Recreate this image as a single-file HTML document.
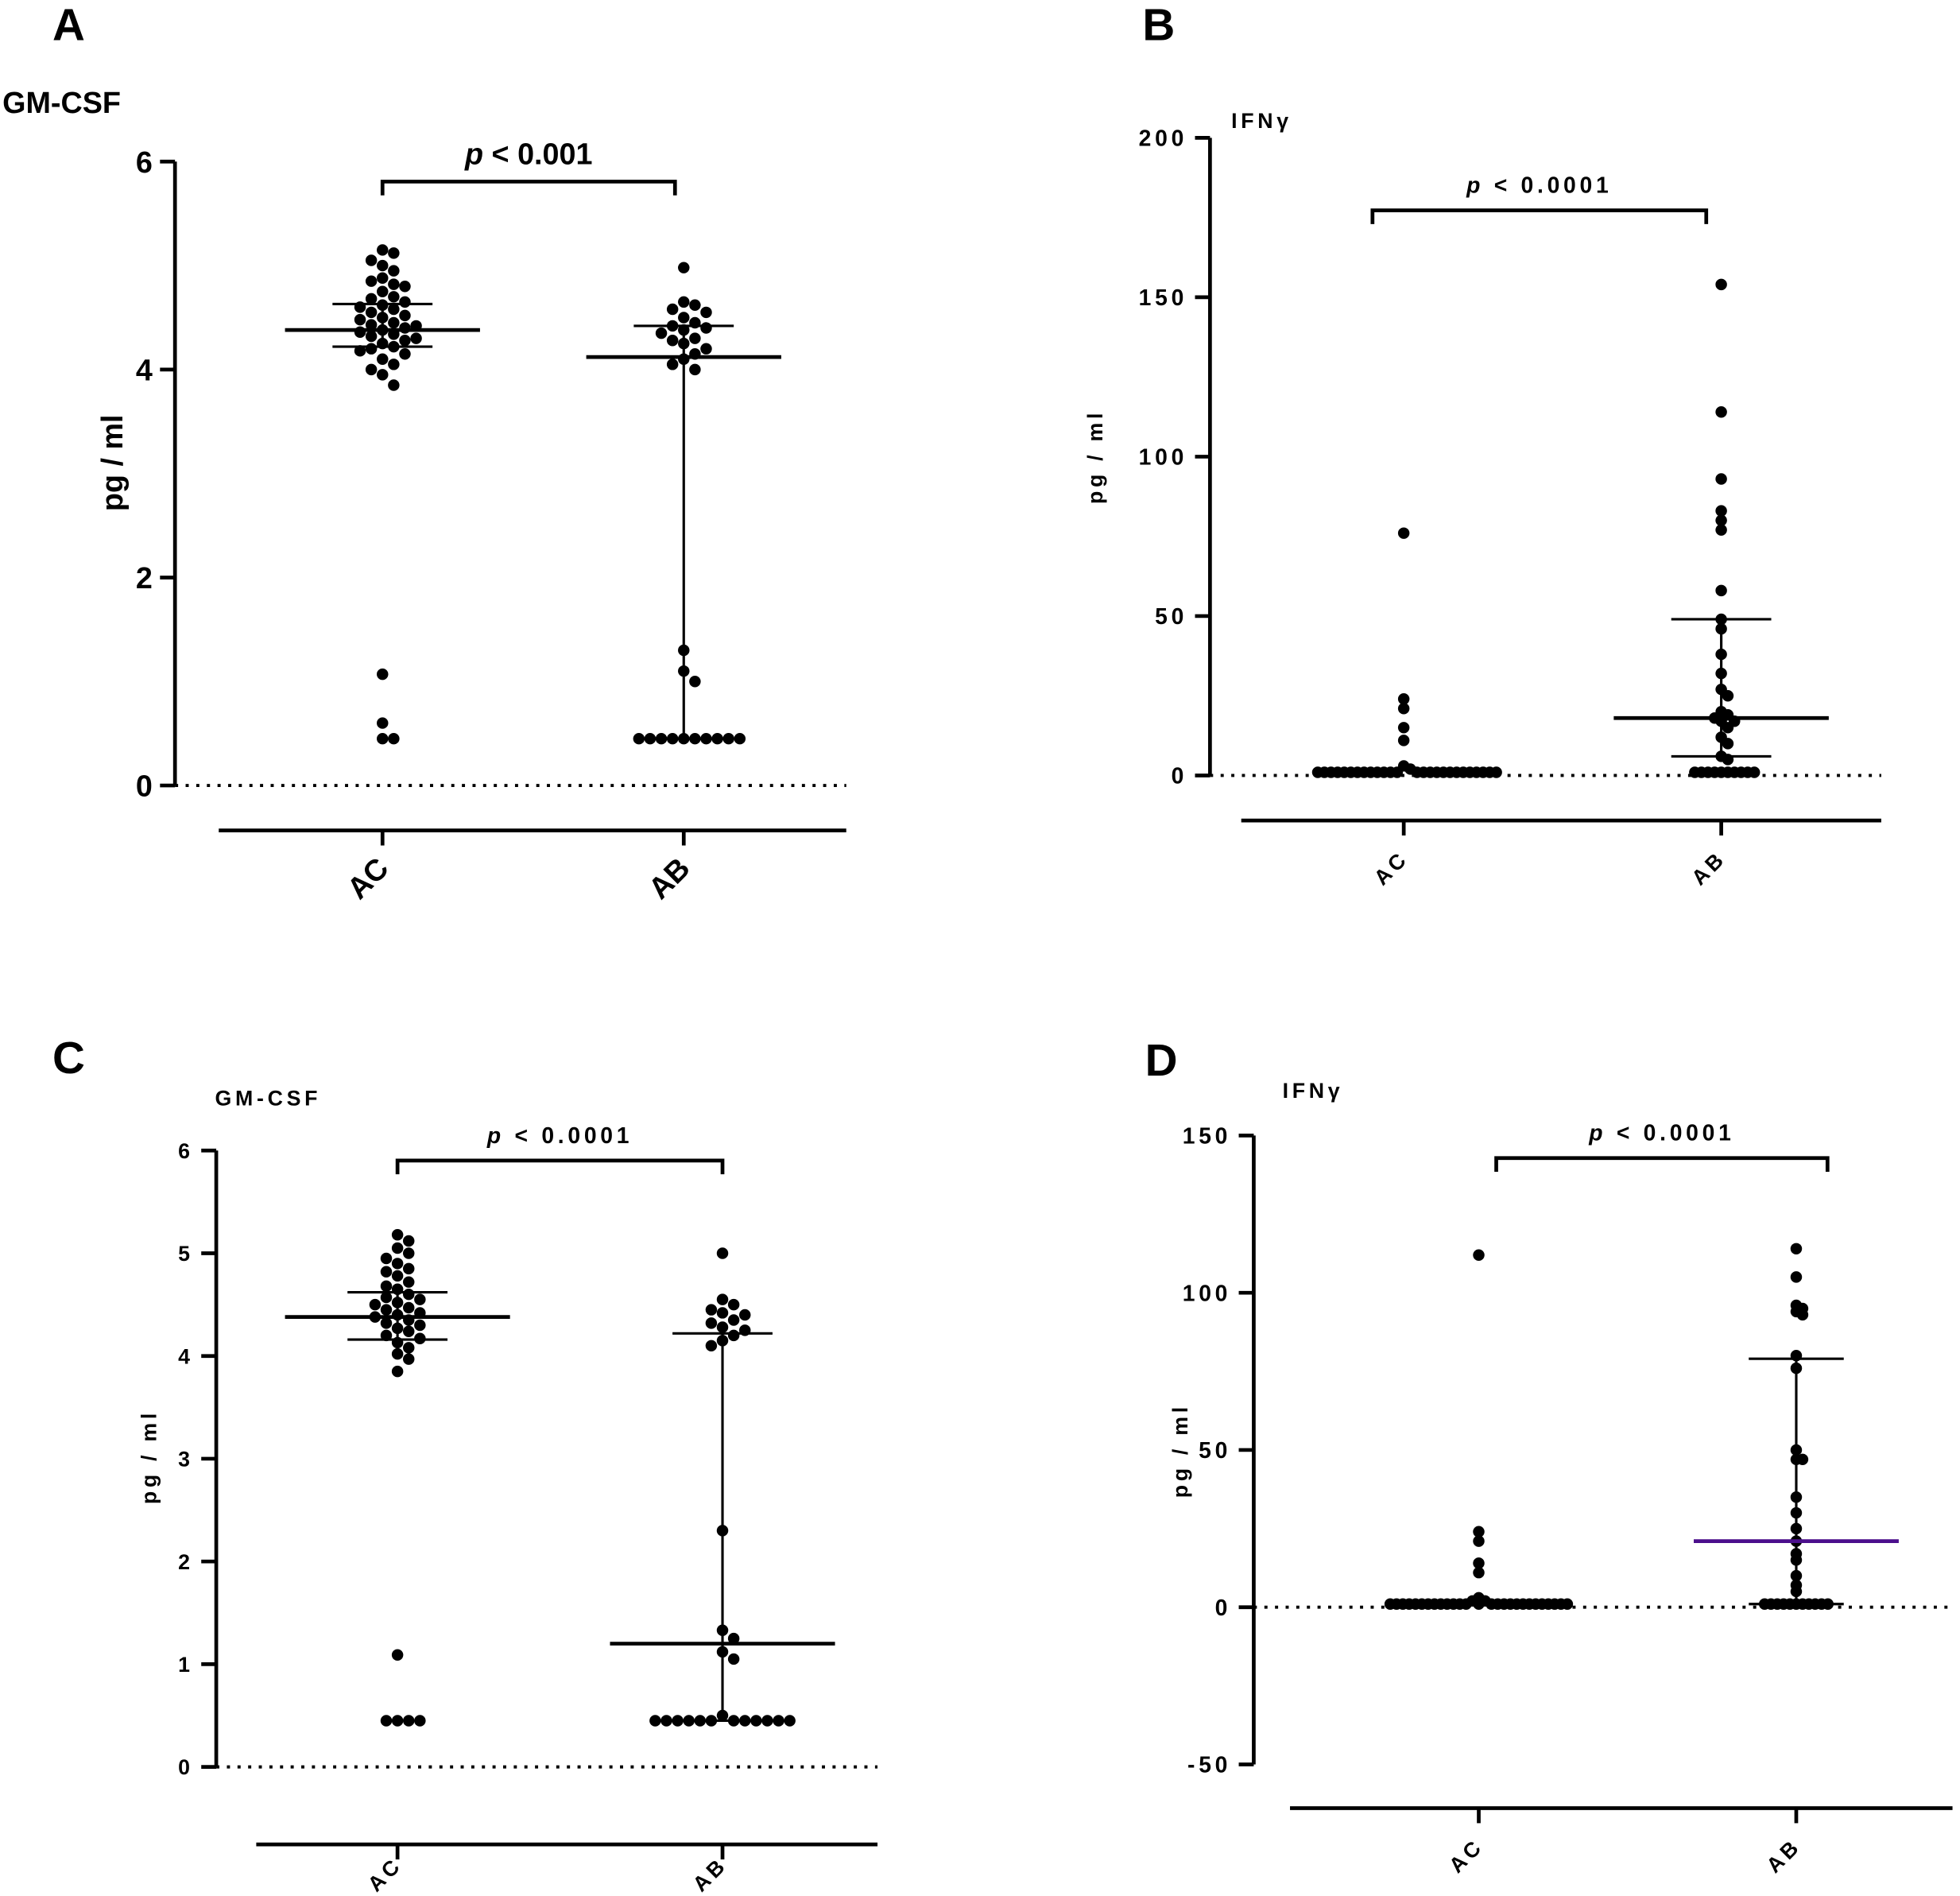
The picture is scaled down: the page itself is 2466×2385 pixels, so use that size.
<!DOCTYPE html>
<html><head><meta charset="utf-8"><style>
html,body{margin:0;padding:0;background:#fff;}
svg{display:block;font-family:"Liberation Sans",sans-serif;}
</style></head><body>
<svg id="fig" width="2466" height="2385" viewBox="0 0 1568 1516" xmlns="http://www.w3.org/2000/svg"></svg>
<script>
// ---- data ----
const categories = ["AC","AB"];
const aAC = [5.15,5.12,5.05,5.0,4.95,4.88,4.85,4.82,4.8,4.75,4.7,4.68,4.65,4.62,4.6,4.58,4.55,4.52,4.5,4.48,4.45,4.43,4.42,4.4,4.38,4.36,4.34,4.32,4.3,4.28,4.25,4.22,4.2,4.18,4.15,4.1,4.05,4.0,3.95,3.85,1.07,0.6,0.45,0.45];
const aAB = [4.98,4.65,4.62,4.58,4.55,4.5,4.45,4.42,4.4,4.38,4.35,4.3,4.28,4.25,4.2,4.15,4.1,4.05,4.0,1.3,1.1,1.0,0.45,0.45,0.45,0.45,0.45,0.45,0.45,0.45,0.45,0.45];
const aStats = {AC:[4.38,4.22,4.63],AB:[4.12,0.45,4.42]};
const bAC = [76,24,21,15,11,3,2,1,1,1,1,1,1,1,1,1,1,1,1,1,1,1,1,1,1,1,1,1,1,1,1,1,1];
const bAB = [154,114,93,83,80,77,58,49,46,38,32,27,25,20,19,18,17,17,15,12,10,6,5,1,1,1,1,1,1,1,1,1,1];
const bStats = {AC:null,AB:[18,6,49]};
const cAC = [5.18,5.12,5.05,5.0,4.95,4.9,4.85,4.82,4.78,4.72,4.68,4.65,4.6,4.57,4.55,4.52,4.5,4.47,4.45,4.42,4.4,4.38,4.35,4.32,4.3,4.27,4.24,4.2,4.17,4.13,4.08,4.02,3.97,3.85,1.09,0.45,0.45,0.45,0.45];
const cAB = [5.0,4.55,4.5,4.45,4.42,4.4,4.35,4.32,4.28,4.25,4.2,4.15,4.1,2.3,1.33,1.25,1.12,1.05,0.5,0.45,0.45,0.45,0.45,0.45,0.45,0.45,0.45,0.45,0.45,0.45,0.45];
const cStats = {AC:[4.38,4.16,4.62],AB:[1.2,0.45,4.22]};
const dAC = [112,24,21,14,11,3,2,2,1,1,1,1,1,1,1,1,1,1,1,1,1,1,1,1,1,1,1,1,1,1,1,1,1,1,1];
const dAB = [114,105,96,95,94,93,80,76,50,47,47,35,30,25,21,17,15,10,7,5,1,1,1,1,1,1,1,1,1,1,1];
const dStats = {AC:null,AB:[21,1,79]};
const aTicks=[0,2,4,6], bTicks=[0,50,100,150,200], cTicks=[0,1,2,3,4,5,6], dTicks=[-50,0,50,100,150];

const NS="http://www.w3.org/2000/svg", svg=document.getElementById('fig');
function el(t,a,p){const e=document.createElementNS(NS,t);for(const k in a)e.setAttribute(k,a[k]);(p||svg).appendChild(e);return e;}
function txt(s,a,p){const e=el('text',a,p);e.textContent=s;return e;}

function panel(cfg){
  const g=el('g',{});
  
  
  const y=v=>cfg.y0+(v-cfg.vmin)*(cfg.y1-cfg.y0)/(cfg.vmax-cfg.vmin);
  const pl=txt(cfg.letter,{x:cfg.lx,y:cfg.ly,'font-size':36,'font-weight':'bold'},g);
  
  const ti=txt(cfg.title,{x:cfg.tx,y:cfg.ty,'font-size':cfg.tfs,'font-weight':'bold','letter-spacing':cfg.ls},g);
  
  const yl=txt('pg / ml',{x:0,y:0,'font-size':cfg.yfs,'font-weight':'bold','text-anchor':'middle','letter-spacing':cfg.ls,transform:`translate(${cfg.ylx},${cfg.yly}) rotate(-90)`},g);
  
  const ax=el('line',{x1:cfg.ax,x2:cfg.ax,y1:y(cfg.ticks[0]),y2:y(cfg.ticks[cfg.ticks.length-1]),stroke:'#000','stroke-width':3},g);
  
  cfg.ticks.forEach(t=>{
    el('line',{x1:cfg.ax-12,x2:cfg.ax,y1:y(t),y2:y(t),stroke:'#000','stroke-width':3},g);
    const tl=txt(String(t),{x:cfg.ax-18,y:y(t)+cfg.kfs*0.36,'font-size':cfg.kfs,'font-weight':'bold','text-anchor':'end','letter-spacing':cfg.ls},g);
    
  });
  el('line',{x1:cfg.ax,x2:cfg.xr,y1:y(0),y2:y(0),stroke:'#000','stroke-width':2.5,'stroke-dasharray':'2.5 6'},g);
  const xa=el('line',{x1:cfg.xl,x2:cfg.xr,y1:cfg.xy,y2:cfg.xy,stroke:'#000','stroke-width':3},g);
  
  categories.forEach((c,i)=>{
    const cx=cfg.cx[i];
    el('line',{x1:cx,x2:cx,y1:cfg.xy,y2:cfg.xy+12,stroke:'#000','stroke-width':3},g);
    const cl=txt(c,{x:0,y:0,'font-size':cfg.cfs,'font-weight':'bold','text-anchor':'middle','letter-spacing':cfg.ls,transform:`translate(${cx-6},${cfg.xy+cfg.lo}) rotate(-45)`},g);
    
    // points (beeswarm)
    const vals=cfg.data[i].slice().sort((a,b)=>b-a), r=4.6, placed=[], sp=cfg.sp;
    vals.forEach(v=>{
      const py=y(v);let k=0,px;
      while(true){const off=(k===0?0:(Math.ceil(k/2)*(k%2?1:-1)))*r*sp;px=cx+off;
        if(placed.every(p=>Math.hypot(p[0]-px,p[1]-py)>=r*sp*0.97))break;k++;}
      placed.push([px,py]);
      const d=el('circle',{cx:px,cy:py,r:r,fill:'#000'},g);
      
      
    });
    const st=cfg.stats[c];
    if(st){
      el('line',{x1:cx,x2:cx,y1:y(st[1]),y2:y(st[2]),stroke:'#000','stroke-width':2},g);
      [st[1],st[2]].forEach(v=>el('line',{x1:cx-cfg.cap,x2:cx+cfg.cap,y1:y(v),y2:y(v),stroke:'#000','stroke-width':2},g));
      const m=el('line',{x1:cx-cfg.med,x2:cx+cfg.med,y1:y(st[0]),y2:y(st[0]),stroke:cfg.mcol&&c==='AB'?cfg.mcol:'#000','stroke-width':3},g);
      
    }
  });
  const b=el('path',{d:`M${cfg.b1},${cfg.by+11}V${cfg.by}H${cfg.b2}V${cfg.by+11}`,fill:'none',stroke:'#000','stroke-width':3},g);
  
  const p=txt('',{x:(cfg.b1+cfg.b2)/2,y:cfg.by-14,'font-size':cfg.pfs,'font-weight':'bold','text-anchor':'middle','letter-spacing':cfg.ls},g);
  
  const pi=document.createElementNS(NS,'tspan');pi.setAttribute('font-style','italic');pi.textContent='p';p.appendChild(pi);
  p.appendChild(document.createTextNode(cfg.ptext));
}
panel({letter:'A',lx:42,ly:32,title:'GM-CSF',tx:2,ty:90,tfs:24,ls:0,ylx:98,yly:370,yfs:24,ax:140,vmin:0,vmax:6,y0:628,y1:129,ticks:aTicks,kfs:24,
  xl:175,xr:677,xy:664,cx:[306,547],cfs:24,lo:44,sp:1.95,data:[aAC,aAB],stats:aStats,cap:40,med:78,b1:306,b2:540,by:145,pfs:24,ptext:' < 0.001'});
panel({letter:'B',lx:914,ly:32,title:'IFN\u03b3',tx:985,ty:102,tfs:17,ls:3,ylx:882,yly:365,yfs:17,ax:968,vmin:0,vmax:200,y0:620,y1:110,ticks:bTicks,kfs:18,
  xl:993,xr:1505,xy:656,cx:[1123,1377],cfs:17,lo:42,sp:1.15,data:[bAC,bAB],stats:bStats,cap:40,med:86,b1:1098,b2:1365,by:168,pfs:18,ptext:' < 0.0001'});
panel({letter:'C',lx:42,ly:858,title:'GM-CSF',tx:172,ty:884,tfs:17,ls:3,ylx:125,yly:1165,yfs:17,ax:173,vmin:0,vmax:6,y0:1413,y1:920,ticks:cTicks,kfs:17,
  xl:205,xr:702,xy:1475,cx:[318,578],cfs:17,lo:28,sp:1.95,data:[cAC,cAB],stats:cStats,cap:40,med:90,b1:318,b2:578,by:928,pfs:18,ptext:' < 0.0001'});
panel({letter:'D',lx:916,ly:860,title:'IFN\u03b3',tx:1026,ty:878,tfs:17,ls:3,ylx:950,yly:1160,yfs:17,ax:1003,vmin:-50,vmax:150,y0:1411,y1:908,ticks:dTicks,kfs:18,
  xl:1032,xr:1562,xy:1446,cx:[1183,1437],cfs:17,lo:42,sp:1.1,data:[dAC,dAB],stats:dStats,cap:38,med:82,mcol:'#4b0f8c',b1:1197,b2:1462,by:926,pfs:18,ptext:' < 0.0001'});
</script>
</body></html>
